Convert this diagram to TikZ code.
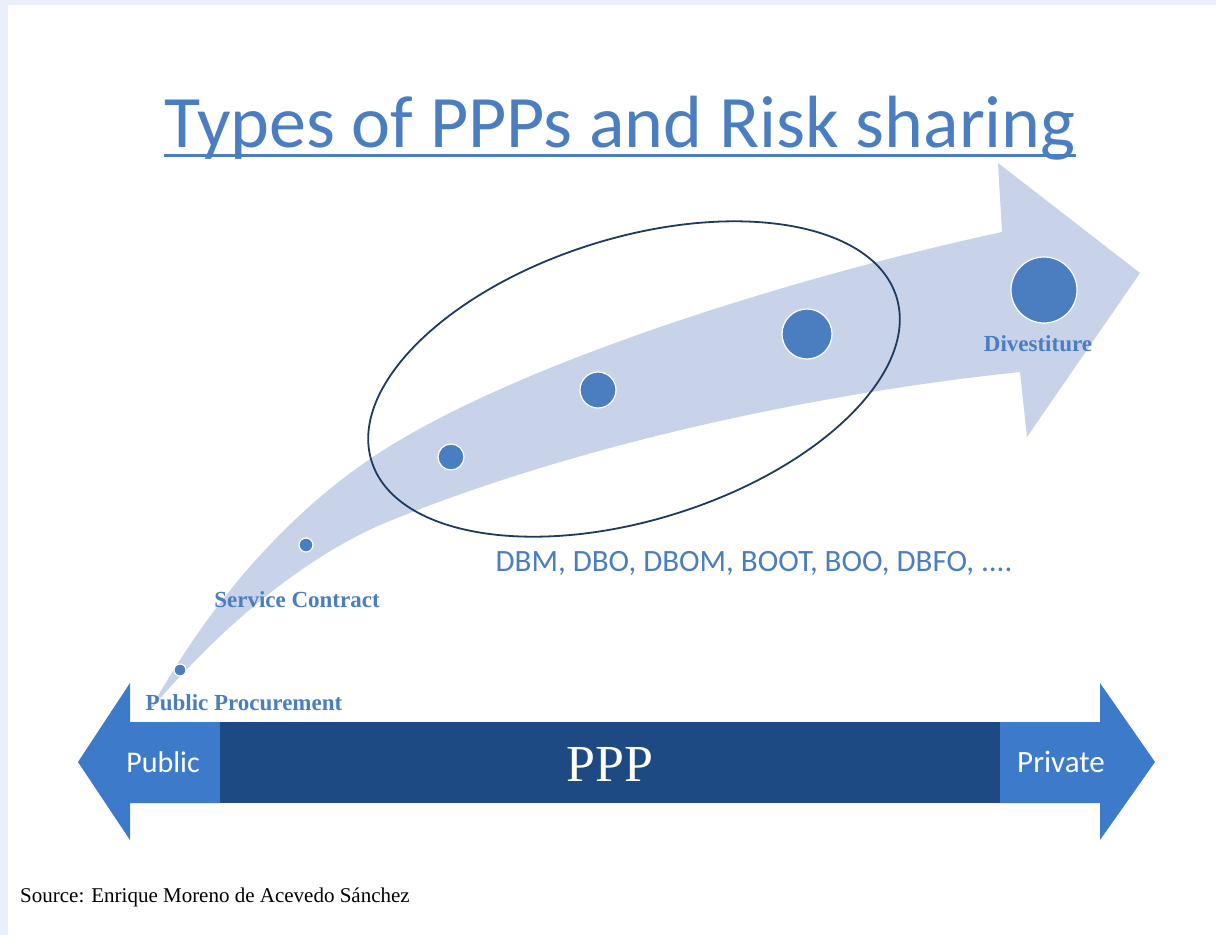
\documentclass[tikz,border=0pt]{standalone}
\usepackage{fontspec}
\setmainfont{Liberation Serif}
\newfontfamily\calibri{Carlito}
\usepackage{tikz}
\usetikzlibrary{shapes.geometric}

\definecolor{frameblue}{HTML}{E9F0FC}
\definecolor{titleblue}{HTML}{4A7EC1}
\definecolor{bandblue}{HTML}{C8D2E8}
\definecolor{ringnavy}{HTML}{1F3A5F}
\definecolor{endblue}{HTML}{3D7BCA}
\definecolor{midblue}{HTML}{1D4A82}

\begin{document}
\begin{tikzpicture}[x=1pt, y=-1pt,
    dot/.style={circle, fill=titleblue, draw=white, line width=1.2pt, inner sep=0pt},
    stagetext/.style={text=titleblue, font=\fontsize{23}{25}\selectfont\bfseries, inner sep=0pt}]

    \useasboundingbox (0,0) rectangle (1216,935);
    % Page
    \fill[frameblue] (0,0) rectangle (1216,935);
    \fill[white] (8,5) rectangle (1216,935);

    % Title
    \node[titleblue, font=\calibri\fontsize{74}{80}\selectfont, inner sep=0pt, anchor=base] (title) at (620,147) {Types of PPPs and Risk sharing};
    \draw[titleblue, line width=3pt] ([yshift=-8pt]title.base west) -- ([yshift=-8pt]title.base east);

    % Curved arrow
    \fill[bandblue] (150,710) .. controls (200,620) and (270,530) .. (360,466)
        .. controls (490,372) and (780,280) .. (1002,232)
        -- (998,163) -- (1140,273) -- (1027,437) -- (1020,372)
        .. controls (800,395) and (560,450) .. (380,525)
        .. controls (290,565) and (210,640) .. (150,710) -- cycle;

    % Stages along the arrow
    \node[dot, minimum size=12pt] (procure) at (180,670) {};
    \node[dot, minimum size=14pt] (service) at (306,545) {};
    \node[dot, minimum size=26pt] (dbm) at (451,457) {};
    \node[dot, minimum size=36pt] (dbo) at (598,390) {};
    \node[dot, minimum size=50pt] (boot) at (807,334) {};
    \node[dot, minimum size=66pt] (divest) at (1044,290) {};

    % Ring round the PPP models
    \node[ellipse, draw=ringnavy, line width=1.8pt, minimum width=550pt, minimum height=282pt,
        inner sep=0pt, rotate=17.4] (deals) at (634,379) {};

    % Stage labels
    \node[stagetext] (proclabel) at (244,703) {Public Procurement};
    \node[stagetext] (servlabel) at (297,600) {Service Contract};
    \node[stagetext] (divlabel) at (1038,344) {Divestiture};
    \node[text=titleblue, font=\calibri\fontsize{31}{34}\selectfont, inner sep=0pt] (models) at (754,563) {DBM, DBO, DBOM, BOOT, BOO, DBFO, ....};

    % Public - private axis
    \fill[endblue] (78,762) -- (130,683) -- (130,722) -- (220,722) -- (220,803) -- (130,803) -- (130,840) -- cycle;
    \fill[midblue] (220,722) rectangle (1000,803);
    \fill[endblue] (1000,722) -- (1100,722) -- (1100,683) -- (1155,762) -- (1100,840) -- (1100,803) -- (1000,803) -- cycle;
    \node[white, font=\calibri\fontsize{30}{32}\selectfont] (public) at (163,762) {Public};
    \node[white, font=\calibri\fontsize{31}{32}\selectfont] (private) at (1061,762) {Private};
    \node[white, font=\fontsize{52}{56}\selectfont] (ppp) at (610,764) {PPP};

    % Source
    \node[anchor=west, font=\fontsize{21}{24}\selectfont, inner sep=0pt] (source) at (20,897) {Source: Enrique Moreno de Acevedo Sánchez};
\end{tikzpicture}
\end{document}
